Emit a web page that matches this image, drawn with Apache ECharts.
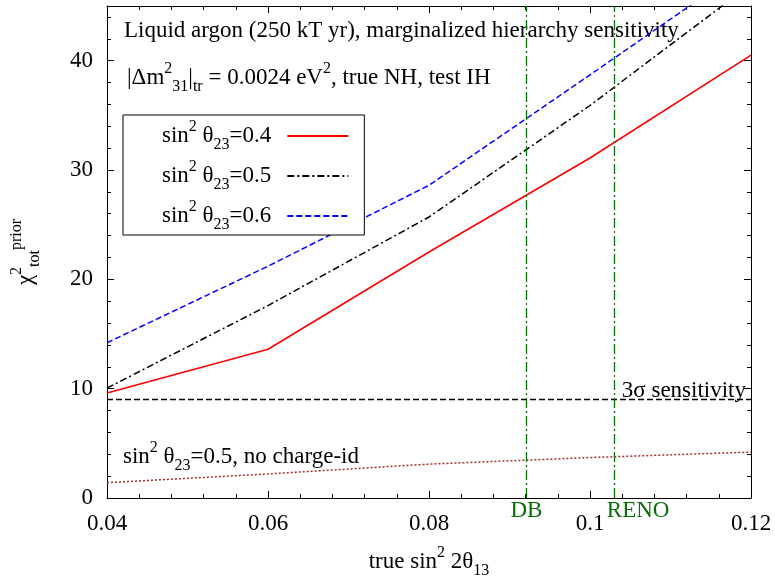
<!DOCTYPE html>
<html>
<head>
<meta charset="utf-8">
<script src="https://cdn.jsdelivr.net/npm/echarts@6/dist/echarts.min.js"></script>
<style>html,body{margin:0;padding:0;background:#fff}#c{width:775px;height:578px}</style>
</head>
<body>
<div id="c"></div>
<script>
// ---- data ----
const xVals = [0.04, 0.06, 0.08, 0.1, 0.12];
const th04 = [9.6, 13.6, 22.5, 31.1, 40.5];
const th05 = [10.05, 17.6, 25.7, 35.9, 47.0];
const th06 = [14.2, 21.2, 28.6, 38.7, 48.9];
const noChargeId = [1.4, 2.2, 3.1, 3.7, 4.2];
const sigma3Level = 9;
const dbX = 0.0921;
const renoX = 0.103;
const xTicks = [0.04, 0.06, 0.08, 0.1, 0.12];
const yTicks = [0, 10, 20, 30, 40];

const F = '"Liberation Serif", "Times New Roman", serif';
const FS = 23, SS = 16;
const green = '#0b6e0b';
const brown = '#a52a2a';

function rich(color) {
  return {
    n: {fontSize: FS, fontFamily: F, color: color, lineHeight: 34},
    sup: {fontSize: SS, fontFamily: F, color: color, lineHeight: 16, verticalAlign: 'top'},
    sub: {fontSize: SS, fontFamily: F, color: color, lineHeight: 16, verticalAlign: 'bottom'},
    gap: {width: 11, fontSize: FS, lineHeight: 34}
  };
}
const pairs = a => xVals.map((x, i) => [x, a[i]]);

const legendNames = {s04: '0.4', s05: '0.5', s06: '0.6'};

const chart = echarts.init(document.getElementById('c'), null, {renderer: 'canvas'});

const axisCommon = {
  axisLine: {show: true, onZero: false, lineStyle: {color: '#000', width: 1}},
  axisTick: {show: true, inside: true, length: 7, lineStyle: {color: '#000'}},
  minorTick: {show: true, splitNumber: 5, length: 4, lineStyle: {color: '#000'}},
  splitLine: {show: false},
  minorSplitLine: {show: false}
};

chart.setOption({
  animation: false,
  backgroundColor: '#fff',
  grid: {left: 107, right: 24, top: 6, bottom: 80, containLabel: false, outerBoundsMode: 'none'},
  xAxis: [
    Object.assign({
      type: 'value', min: xTicks[0], max: xTicks[xTicks.length - 1], interval: 0.02, position: 'bottom',
      axisLabel: {fontFamily: F, fontSize: FS, color: '#000', margin: 14},
      name: '{n|true sin}{sup|2}{n| 2θ}{sub|13}', nameLocation: 'middle', nameGap: 47,
      nameTextStyle: {rich: rich('#000')}
    }, axisCommon),
    Object.assign({
      type: 'value', min: xTicks[0], max: xTicks[xTicks.length - 1], interval: 0.02, position: 'top',
      axisLabel: {show: false}
    }, axisCommon)
  ],
  yAxis: [
    Object.assign({
      type: 'value', min: 0, max: 45, interval: 10, position: 'left',
      axisLabel: {fontFamily: F, fontSize: FS, color: '#000', margin: 14, showMaxLabel: false},
      name: '{n|χ}{sup|2}{sub|tot}{sup|prior}', nameLocation: 'middle', nameGap: 64, nameRotate: 90,
      nameTextStyle: {rich: rich('#000')}
    }, axisCommon),
    Object.assign({
      type: 'value', min: 0, max: 45, interval: 10, position: 'right',
      axisLabel: {show: false}
    }, axisCommon)
  ],
  legend: {
    orient: 'vertical', left: 123, top: 115, align: 'right',
    itemWidth: 61, itemHeight: 10, itemGap: 6,
    padding: [4, 15, 2, 39],
    borderColor: '#000', borderWidth: 1, backgroundColor: '#fff',
    itemStyle: {opacity: 0, borderWidth: 0},
    data: ['s04', 's05', 's06'],
    formatter: name => '{n|sin}{sup|2}{n| θ}{sub|23}{n|=' + legendNames[name] + '}{gap|}',
    textStyle: {rich: rich('#000')}
  },
  graphic: [
    {type: 'text', left: 124, top: 19, silent: true,
     style: {text: 'Liquid argon (250 kT yr), marginalized hierarchy sensitivity', font: FS + 'px ' + F, fill: '#000'}},
    {type: 'text', left: 127, top: 61, silent: true,
     style: {text: '{n||Δm}{sup|2}{sub|31}{n||}{sub|tr}{n| = 0.0024 eV}{sup|2}{n|, true NH, test IH}', rich: rich('#000')}},
    {type: 'text', left: 123, top: 440, silent: true,
     style: {text: '{n|sin}{sup|2}{n| θ}{sub|23}{n|=0.5, no charge-id}', rich: rich(brown)}}
  ],
  series: [
    {name: 's04', type: 'line', data: pairs(th04), symbol: 'none', clip: true,
     lineStyle: {color: '#ff0000', width: 1.6, type: 'solid'}, itemStyle: {color: '#ff0000'}},
    {name: 's05', type: 'line', data: pairs(th05), symbol: 'none', clip: true,
     lineStyle: {color: '#000', width: 1.5, type: [7, 3, 2, 3]}, itemStyle: {color: '#000'}},
    {name: 's06', type: 'line', data: pairs(th06), symbol: 'none', clip: true,
     lineStyle: {color: '#0000ff', width: 1.5, type: [6, 3]}, itemStyle: {color: '#0000ff'}},
    {name: 'nocid', type: 'line', data: pairs(noChargeId), symbol: 'none', clip: true,
     lineStyle: {color: brown, width: 1.5, type: [2, 2]}, itemStyle: {color: brown},
     markLine: {
       silent: true, symbol: 'none', precision: 5,
       data: [
         {yAxis: sigma3Level, lineStyle: {color: '#000', type: [6, 3], width: 1.3},
          label: {show: true, position: 'insideEndTop', formatter: '3σ sensitivity', distance: [5, -3],
                  fontFamily: F, fontSize: FS, color: '#000'}},
         {xAxis: dbX, lineStyle: {color: green, type: [10, 3, 2, 3], width: 1.3},
          label: {show: true, position: 'start', formatter: 'DB', distance: 1,
                  fontFamily: F, fontSize: FS, color: green}},
         {xAxis: renoX, lineStyle: {color: green, type: [10, 3, 2, 3], width: 1.3},
          label: {show: true, position: 'start', formatter: 'RENO', distance: 1, offset: [24, 0],
                  fontFamily: F, fontSize: FS, color: green}}
       ]
     }}
  ]
});
</script>
</body>
</html>
